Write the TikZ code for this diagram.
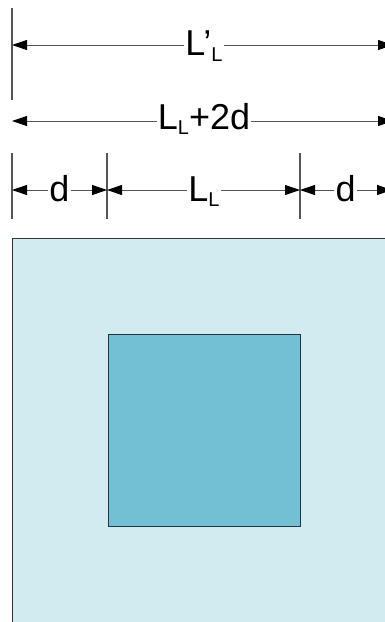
\documentclass[tikz,border=0pt]{standalone}
\usepackage{fontspec}
\setmainfont{Liberation Sans}
\usetikzlibrary{arrows.meta}
\definecolor{outerfill}{HTML}{D2EBF0}
\definecolor{innerfill}{HTML}{73BFD4}
\definecolor{innerdraw}{HTML}{1F3540}
\definecolor{dimgray}{HTML}{555555}
\newcommand{\subL}[1][5pt]{\raisebox{-#1}{\fontsize{20pt}{20pt}\selectfont L}}
\begin{document}
\begin{tikzpicture}[x=1pt,y=-1pt,
  dimline/.style={draw=dimgray,line width=0.9pt,-{Triangle[length=15pt,width=10pt,color=black]}},
  extline/.style={draw=dimgray,line width=1.1pt},
  dimlabel/.style={anchor=base,fill=white,inner sep=1pt,font=\fontsize{36pt}{36pt}\selectfont}]
\useasboundingbox (0,0) rectangle (385,622);
\clip (0,0) rectangle (385,622);
% outer and inner squares
\node[draw=black!80,line width=1pt,fill=outerfill,minimum width=384pt,minimum height=400pt,inner sep=0pt,anchor=north west] (outer) at (12,238) {};
\node[draw=innerdraw,line width=1pt,fill=innerfill,minimum width=192pt,minimum height=192pt,inner sep=0pt,anchor=north west] (inner) at (108,334) {};
% extension lines
\coordinate (e1a) at (12,8);   \coordinate (e1b) at (12,100);
\coordinate (e2a) at (12,153); \coordinate (e2b) at (12,219);
\coordinate (e3a) at (107,153); \coordinate (e3b) at (107,219);
\coordinate (e4a) at (300,153); \coordinate (e4b) at (300,219);
\draw[extline] (e1a) -- (e1b);
\draw[extline] (e2a) -- (e2b);
\draw[extline] (e3a) -- (e3b);
\draw[extline] (e4a) -- (e4b);
% dimension end points
\coordinate (t1) at (12,45);  \coordinate (t2) at (393,45);
\coordinate (m1) at (12,121); \coordinate (m2) at (393,121);
\coordinate (b1) at (12,190); \coordinate (b2) at (107,190);
\coordinate (b3) at (300,190); \coordinate (b4) at (392,190);
% labels
\node[dimlabel] (ltop) at (204,55.7) {L’\subL[6pt]};
\node[dimlabel] (lmid) at (204,129.3) {L\subL+2d};
\node[dimlabel] (lb1) at (59.5,201) {d};
\node[dimlabel] (lb2) at (204,201) {L\subL};
\node[dimlabel] (lb3) at (345.7,201) {d};
% arrows
\draw[dimline] (ltop.west |- t1) -- (t1);
\draw[dimline] (ltop.east |- t2) -- (t2);
\draw[dimline] (lmid.west |- m1) -- (m1);
\draw[dimline] (lmid.east |- m2) -- (m2);
\draw[dimline] (lb1.west |- b1) -- (b1);
\draw[dimline] (lb1.east |- b2) -- (b2);
\draw[dimline] (lb2.west |- b2) -- (b2);
\draw[dimline] (lb2.east |- b3) -- (b3);
\draw[dimline] (lb3.west |- b3) -- (b3);
\draw[dimline] (lb3.east |- b4) -- (b4);
\end{tikzpicture}
\end{document}
